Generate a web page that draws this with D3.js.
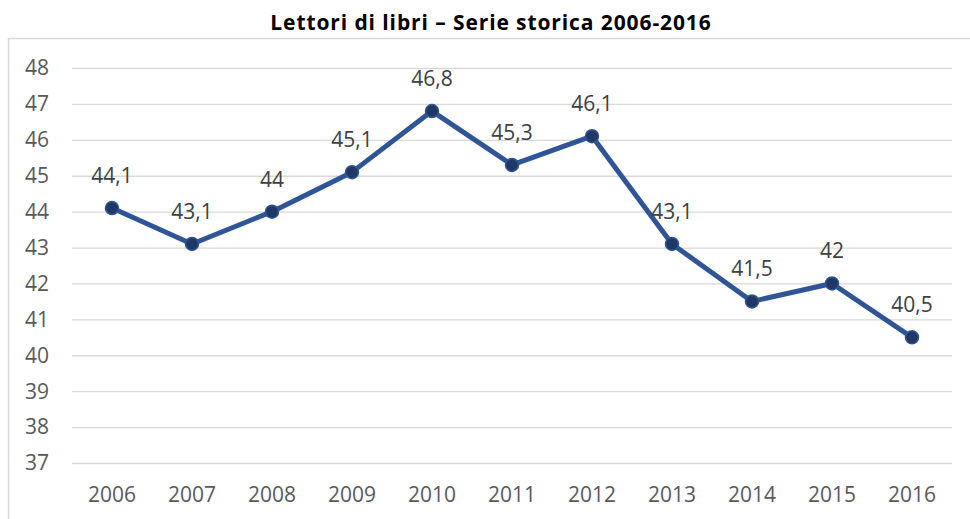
<!DOCTYPE html>
<html>
<head>
  <script src="https://d3js.org/d3.v7.min.js"></script>
  <style>
    body { margin: 0; background: #fff; }
  </style>
</head>
<body>
  <div id="chart"></div>
  <script>

  var title = "Lettori di libri \u2013 Serie storica 2006-2016";
  var years = ["2006", "2007", "2008", "2009", "2010", "2011", "2012", "2013", "2014", "2015", "2016"];
  var readers = [44.1, 43.1, 44, 45.1, 46.8, 45.3, 46.1, 43.1, 41.5, 42, 40.5];
  var yTicks = [37, 38, 39, 40, 41, 42, 43, 44, 45, 46, 47, 48];

  var width = 970,
      height = 519,
      font = "'Open Sans', 'Noto Sans', sans-serif";

  var svg = d3.select("#chart").append("svg")
    .attr("width", width)
    .attr("height", height);

  // chart area border
  svg.append("rect")
    .attr("x", 8.5)
    .attr("y", 38.5)
    .attr("width", 980)
    .attr("height", 500)
    .attr("fill", "none")
    .attr("stroke", "#d9d9d9")
    .attr("stroke-width", 1.5);

  svg.append("text")
    .attr("x", 491)
    .attr("y", 30)
    .attr("text-anchor", "middle")
    .style("font", "bold 21px " + font)
    .style("letter-spacing", "0.9px")
    .style("fill", "#000")
    .text(title);

  var x = d3.scaleBand()
    .domain(years)
    .range([72, 952]);

  var y = d3.scaleLinear()
    .domain([37, 48])
    .range([463, 68]);

  var cx = function(d, i) { return x(years[i]) + x.bandwidth() / 2; };

  // gridlines
  svg.append("g")
    .selectAll("line")
    .data(yTicks)
    .enter()
    .append("line")
    .attr("x1", 72)
    .attr("x2", 952)
    .attr("y1", function(d) { return y(d) + 0.5; })
    .attr("y2", function(d) { return y(d) + 0.5; })
    .attr("stroke", "#d9d9d9")
    .attr("stroke-width", 1.3);

  // y axis labels
  svg.append("g")
    .selectAll("text")
    .data(yTicks)
    .enter()
    .append("text")
    .attr("x", 49)
    .attr("y", function(d) { return y(d); })
    .attr("dy", "0.35em")
    .attr("text-anchor", "end")
    .style("font", "21px " + font)
    .style("fill", "#595959")
    .text(function(d) { return d; });

  // x axis labels
  svg.append("g")
    .selectAll("text")
    .data(years)
    .enter()
    .append("text")
    .attr("x", function(d) { return x(d) + x.bandwidth() / 2; })
    .attr("y", 502)
    .attr("text-anchor", "middle")
    .style("font", "21px " + font)
    .style("fill", "#595959")
    .text(function(d) { return d; });

  var line = d3.line()
    .x(cx)
    .y(function(d) { return y(d); });

  svg.append("path")
    .datum(readers)
    .attr("d", line)
    .attr("fill", "none")
    .attr("stroke", "#2f5597")
    .attr("stroke-width", 5)
    .attr("stroke-linejoin", "round");

  svg.append("g")
    .selectAll("circle")
    .data(readers)
    .enter()
    .append("circle")
    .attr("cx", cx)
    .attr("cy", function(d) { return y(d); })
    .attr("r", 6.5)
    .attr("fill", "#203864")
    .attr("stroke", "#2f5597")
    .attr("stroke-width", 1.5);

  // data labels
  var fmt = function(d) { return String(d).replace(".", ","); };

  svg.append("g")
    .selectAll("text")
    .data(readers)
    .enter()
    .append("text")
    .attr("x", cx)
    .attr("y", function(d) { return y(d) - 25; })
    .attr("text-anchor", "middle")
    .style("font", "21px " + font)
    .style("fill", "#404040")
    .text(fmt);

  </script>
</body>
</html>
